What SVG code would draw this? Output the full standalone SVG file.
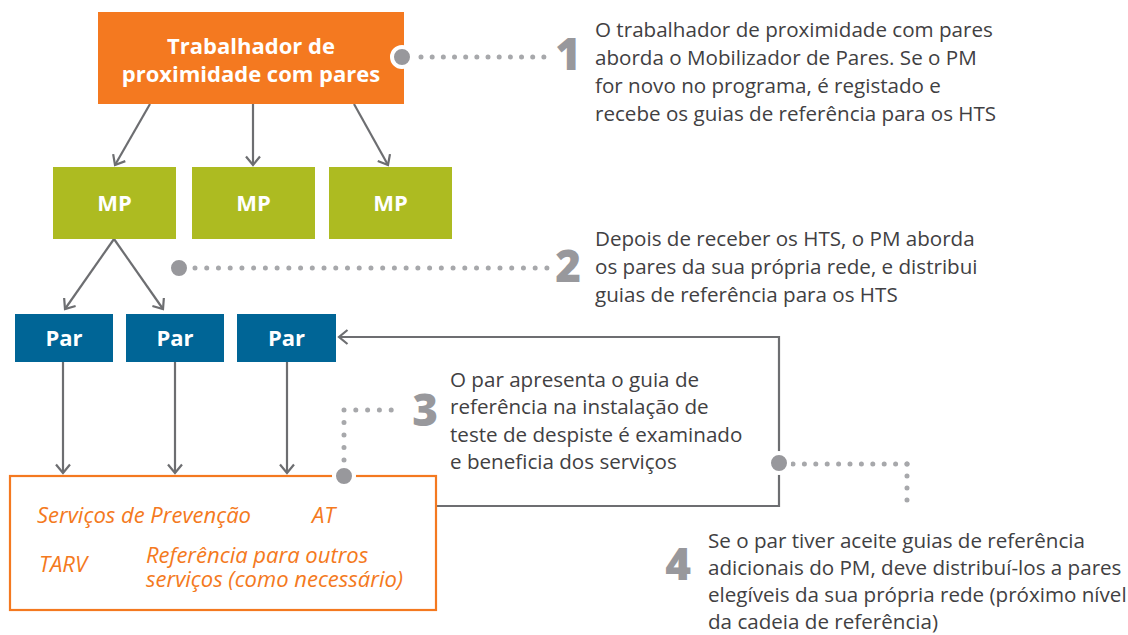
<svg xmlns="http://www.w3.org/2000/svg" width="1128" height="635" viewBox="0 0 1128 635">
<defs>
<style>
.body{font-family:"Open Sans","Noto Sans","Liberation Sans",sans-serif;font-size:20.6px;fill:#414042}
.lbl{font-family:"Open Sans","Noto Sans","Liberation Sans",sans-serif;font-size:22px;font-weight:700;fill:#ffffff;text-anchor:middle}
.svc{font-family:"Open Sans","Noto Sans","Liberation Sans",sans-serif;font-size:22px;font-style:italic;fill:#f47920}
.num{font-family:"Open Sans","Liberation Sans",sans-serif;font-size:44px;font-weight:800;fill:#98989c;text-anchor:end}
.arr{fill:none;stroke:#6d6e71;stroke-width:2.2}
.dots{fill:none;stroke:#a7a8ab;stroke-width:5;stroke-linecap:round}
.pin{fill:#98989c;stroke:#ffffff;stroke-width:4}
</style>
<marker id="ah" markerUnits="userSpaceOnUse" markerWidth="20" markerHeight="20" refX="10" refY="10" orient="auto" overflow="visible">
<path d="M1.5 3 L10 10 L1.5 17" fill="none" stroke="#6d6e71" stroke-width="2.2"/>
</marker>
</defs>
<rect width="1128" height="635" fill="#ffffff"/>

<g id="connectors">
<line class="arr" x1="150" y1="104" x2="115" y2="165" marker-end="url(#ah)"/>
<line class="arr" x1="253" y1="104" x2="253" y2="165" marker-end="url(#ah)"/>
<line class="arr" x1="354" y1="104" x2="388" y2="165" marker-end="url(#ah)"/>
<line class="arr" x1="114" y1="239" x2="65" y2="309" marker-end="url(#ah)"/>
<line class="arr" x1="114" y1="239" x2="163" y2="309" marker-end="url(#ah)"/>
<line class="arr" x1="63" y1="362" x2="63" y2="473" marker-end="url(#ah)"/>
<line class="arr" x1="175" y1="362" x2="175" y2="473" marker-end="url(#ah)"/>
<line class="arr" x1="287" y1="362" x2="287" y2="473" marker-end="url(#ah)"/>
<path class="arr" d="M436 506 H779 V337 H339" marker-end="url(#ah)"/>
<line class="dots" x1="421" y1="57" x2="555" y2="57" stroke-dasharray="0 11.17"/>
<line class="dots" x1="195" y1="268" x2="547" y2="268" stroke-dasharray="0 11.73"/>
<line class="dots" x1="344" y1="460" x2="344" y2="410" stroke-dasharray="0 12.5"/>
<line class="dots" x1="344" y1="410" x2="403" y2="410" stroke-dasharray="0 11.8"/>
<line class="dots" x1="793" y1="464" x2="907" y2="464" stroke-dasharray="0 11.4"/>
<line class="dots" x1="907" y1="464" x2="907" y2="512" stroke-dasharray="0 12"/>
</g>

<g id="node-trabalhador">
<rect x="98" y="12" width="306" height="92" fill="#f47920"/>
<text class="lbl" x="251" y="54">Trabalhador de</text>
<text class="lbl" x="251" y="82">proximidade com pares</text>
</g>

<g id="node-mp1"><rect x="53" y="167" width="123" height="72" fill="#adbb21"/><text class="lbl" x="114.5" y="211">MP</text></g>
<g id="node-mp2"><rect x="192" y="167" width="123" height="72" fill="#adbb21"/><text class="lbl" x="253.5" y="211">MP</text></g>
<g id="node-mp3"><rect x="329" y="167" width="123" height="72" fill="#adbb21"/><text class="lbl" x="390.5" y="211">MP</text></g>

<g id="node-par1"><rect x="15" y="314" width="98" height="48" fill="#006596"/><text class="lbl" x="64" y="346">Par</text></g>
<g id="node-par2"><rect x="126" y="314" width="98" height="48" fill="#006596"/><text class="lbl" x="175" y="346">Par</text></g>
<g id="node-par3"><rect x="237" y="314" width="99" height="48" fill="#006596"/><text class="lbl" x="286.5" y="346">Par</text></g>

<g id="node-servicos">
<rect x="10" y="476" width="426" height="134" fill="none" stroke="#f47920" stroke-width="2.2"/>
<text class="svc" x="37" y="523">Serviços de Prevenção</text>
<text class="svc" x="312" y="523">AT</text>
<text class="svc" x="39" y="572">TARV</text>
<text class="svc" x="146" y="563">Referência para outros</text>
<text class="svc" x="146" y="587">serviços (como necessário)</text>
</g>

<g id="pins">
<circle class="pin" cx="402" cy="57" r="10"/>
<circle class="pin" cx="179" cy="268" r="10"/>
<circle class="pin" cx="344" cy="476" r="10"/>
<circle class="pin" cx="779" cy="463" r="10"/>
</g>

<g id="step1">
<text class="num" x="581" y="70">1</text>
<text class="body" x="595" y="37">O trabalhador de proximidade com pares</text>
<text class="body" x="595" y="65">aborda o Mobilizador de Pares. Se o PM</text>
<text class="body" x="595" y="93">for novo no programa, é registado e</text>
<text class="body" x="595" y="121">recebe os guias de referência para os HTS</text>
</g>
<g id="step2">
<text class="num" x="581" y="282">2</text>
<text class="body" x="595" y="246">Depois de receber os HTS, o PM aborda</text>
<text class="body" x="595" y="274">os pares da sua própria rede, e distribui</text>
<text class="body" x="595" y="302">guias de referência para os HTS</text>
</g>
<g id="step3">
<text class="num" x="438" y="426">3</text>
<text class="body" x="450" y="387">O par apresenta o guia de</text>
<text class="body" x="450" y="414">referência na instalação de</text>
<text class="body" x="450" y="442">teste de despiste é examinado</text>
<text class="body" x="450" y="469">e beneficia dos serviços</text>
</g>
<g id="step4">
<text class="num" x="691" y="580">4</text>
<text class="body" x="708" y="548">Se o par tiver aceite guias de referência</text>
<text class="body" x="708" y="575">adicionais do PM, deve distribuí-los a pares</text>
<text class="body" x="708" y="602">elegíveis da sua própria rede (próximo nível</text>
<text class="body" x="708" y="629">da cadeia de referência)</text>
</g>
</svg>
